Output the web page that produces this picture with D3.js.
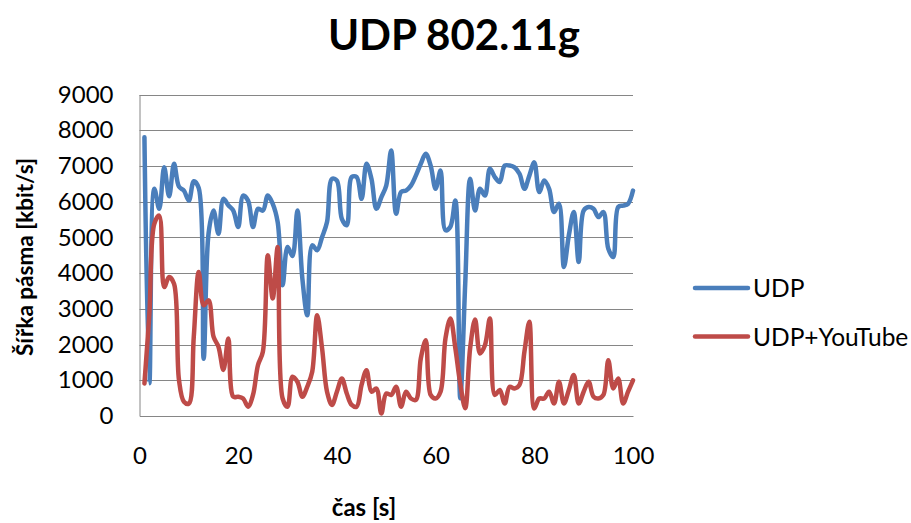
<!DOCTYPE html>
<html>
<head>
<meta charset="utf-8">
<script src="https://cdn.jsdelivr.net/npm/d3@7"></script>
<style>
  html, body { margin: 0; padding: 0; background: #ffffff; }
  svg { display: block; }
</style>
</head>
<body>
<svg id="chart" width="911" height="523"></svg>
<script>
const titleText = "UDP 802.11g";
const xTitle = "čas [s]";
const yTitle = "Šířka pásma [kbit/s]";
const seriesNames = ["UDP", "UDP+YouTube"];
const xTicks = [0, 20, 40, 60, 80, 100];
const yTicks = [0, 1000, 2000, 3000, 4000, 5000, 6000, 7000, 8000, 9000];

const time = [1,2,3,4,5,6,7,8,9,10,11,12,13,14,15,16,17,18,19,20,
  21,22,23,24,25,26,27,28,29,30,31,32,33,34,35,36,37,38,39,40,
  41,42,43,44,45,46,47,48,49,50,51,52,53,54,55,56,57,58,59,60,
  61,62,63,64,65,66,67,68,69,70,71,72,73,74,75,76,77,78,79,80,
  81,82,83,84,85,86,87,88,89,90,91,92,93,94,95,96,97,98,99,100];

const udp = [7800,920,6360,5800,6960,6150,7060,6420,6310,6030,
  6570,6380,1600,5120,5750,5100,6080,5900,5750,5290,
  6170,6030,5290,5800,5750,6170,5940,5430,3660,4730,
  4480,5750,3850,2820,4780,4640,5010,5430,6640,6590,
  5520,5340,6690,6690,6080,7060,6640,5800,6120,6450,
  7430,5660,6270,6310,6450,6730,7060,7340,7010,6360,
  6870,5200,5300,6030,500,3700,6640,5750,6360,6170,
  6920,6690,6550,7010,7010,6960,6780,6360,6730,7100,
  6270,6590,6360,5710,5940,4170,5060,5710,4310,5750,
  5850,5800,5570,5710,4680,4450,5850,5890,5940,6310];

const udpYoutube = [910,2870,5380,5610,3610,3890,3700,1010,400,350,
  2220,4030,3100,3240,2220,1940,1290,2170,540,540,
  490,260,590,1420,1800,4500,3290,4730,490,260,
  1100,960,540,820,1240,2820,1890,680,310,680,
  1050,630,310,260,870,1280,680,770,70,630,
  590,820,260,680,490,450,1610,2120,590,490,
  680,2170,2730,1900,900,220,1900,2700,1750,1980,
  2730,590,730,350,820,770,870,1800,2640,210,
  490,490,680,350,960,350,730,1150,350,680,
  960,540,490,590,1560,770,1050,350,680,1000];

const colors = ["#4A7EBB", "#BE4B48"];
const font = "Lato, 'Open Sans', sans-serif";

const svg = d3.select("#chart");
const plot = {left: 139.5, right: 633, top: 94.5, bottom: 416};

const x = d3.scaleLinear().domain([0, 100]).range([plot.left, plot.right]);
const y = d3.scaleLinear().domain([0, 9000]).range([plot.bottom, plot.top]);

// gridlines
svg.append("g")
  .selectAll("line")
  .data(yTicks.filter(v => v > 0))
  .join("line")
  .attr("x1", plot.left).attr("x2", plot.right)
  .attr("y1", d => Math.round(y(d)) + 0.5).attr("y2", d => Math.round(y(d)) + 0.5)
  .attr("stroke", "#868686").attr("stroke-width", 1);

// axes
const yAxis = svg.append("g")
  .attr("transform", `translate(${plot.left},0)`)
  .call(d3.axisLeft(y).tickValues(yTicks).tickSize(0).tickPadding(26).tickFormat(d3.format("d")));
yAxis.select(".domain").attr("stroke", "#868686");
yAxis.selectAll("text").attr("font-family", font).attr("font-size", 24).attr("fill", "#000");

const xAxis = svg.append("g")
  .attr("transform", `translate(0,${plot.bottom})`)
  .call(d3.axisBottom(x).tickValues(xTicks).tickSize(0).tickPadding(31).tickFormat(d3.format("d")));
xAxis.select(".domain").attr("stroke", "#868686");
xAxis.selectAll("text").attr("font-family", font).attr("font-size", 24).attr("fill", "#000");

// lines
const line = d3.line()
  .x((d) => x(d[0]))
  .y((d) => y(d[1]))
  .curve(d3.curveCatmullRom.alpha(0.5));

const series = [udp, udpYoutube];
series.forEach((vals, i) => {
  svg.append("path")
    .datum(time.map((t, k) => [t, vals[k]]))
    .attr("fill", "none")
    .attr("stroke", colors[i])
    .attr("stroke-width", 4.5)
    .attr("stroke-linejoin", "round")
    .attr("stroke-linecap", "round")
    .attr("d", line);
});

// title
svg.append("text")
  .attr("x", 454).attr("y", 50)
  .attr("text-anchor", "middle")
  .attr("font-family", font).attr("font-weight", "bold").attr("font-size", 42)
  .attr("fill", "#000")
  .text(titleText);

// axis titles
svg.append("text")
  .attr("x", 364).attr("y", 516)
  .attr("text-anchor", "middle")
  .attr("font-family", font).attr("font-weight", "bold").attr("font-size", 24)
  .attr("fill", "#000")
  .text(xTitle);

svg.append("text")
  .attr("transform", "translate(33,257) rotate(-90)")
  .attr("text-anchor", "middle")
  .attr("font-family", font).attr("font-weight", "bold").attr("font-size", 22.5)
  .attr("fill", "#000")
  .text(yTitle);

// legend
const legendY = [288, 336.5];
seriesNames.forEach((name, i) => {
  svg.append("line")
    .attr("x1", 695).attr("x2", 748)
    .attr("y1", legendY[i]).attr("y2", legendY[i])
    .attr("stroke", colors[i]).attr("stroke-width", 4.5)
    .attr("stroke-linecap", "round");
  svg.append("text")
    .attr("x", 753).attr("y", legendY[i] + 9)
    .attr("font-family", font).attr("font-size", 24.5)
    .attr("fill", "#000")
    .text(name);
});
</script>
</body>
</html>
